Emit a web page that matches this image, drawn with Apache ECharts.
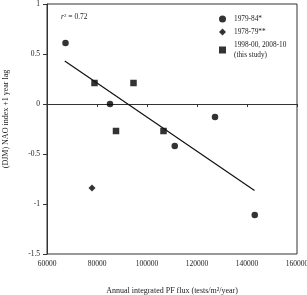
<!DOCTYPE html>
<html><head><meta charset="utf-8">
<script src="https://cdn.jsdelivr.net/npm/echarts@6/dist/echarts.min.js"></script>
<style>html,body{margin:0;padding:0;background:#fff}#c{width:307px;height:295px}</style>
</head><body><div id="c"></div>
<script>
var circleX = [67400, 85200, 111100, 127200, 143100];
var circleY = [0.61, 0.00, -0.42, -0.13, -1.11];
var diamondX = [78000];
var diamondY = [-0.84];
var squareX = [79000, 87600, 94600, 106600];
var squareY = [0.21, -0.27, 0.21, -0.27];
var fitX = [67100, 143000];
var fitY = [0.43, -0.865];
var seriesNames = ['1979-84*', '1978-79**', '1998-00, 2008-10\n(this study)'];
var xTicks = [60000, 80000, 100000, 120000, 140000, 160000];
var yTicks = [-1.5, -1, -0.5, 0, 0.5, 1];

function pairs(xs, ys){ return xs.map(function(x,i){return [x, ys[i]];}); }
var F = 'Liberation Serif';
var chart = echarts.init(document.getElementById('c'));
chart.setOption({
  animation: false,
  textStyle: {fontFamily: F, color: '#222'},
  grid: {left: 47, right: 10, top: 4, bottom: 41, show: true, borderColor: '#333', borderWidth: 1, outerBoundsMode: 'none', containLabel: false},
  xAxis: {type: 'value', min: 60000, max: 160000, interval: 20000,
    name: 'Annual integrated PF flux (tests/m²/year)', nameLocation: 'middle', nameGap: 33,
    nameTextStyle: {fontFamily: F, fontSize: 8, color: '#222'},
    axisLine: {lineStyle: {color: '#333'}}, axisTick: {length: 3, lineStyle: {color: '#333'}},
    axisLabel: {fontFamily: F, fontSize: 7.5, color: '#222', margin: 6, formatter: function(v){return String(v);}}, splitLine: {show: false}},
  yAxis: {type: 'value', min: -1.5, max: 1, interval: 0.5,
    axisLine: {show: true, lineStyle: {color: '#333'}}, axisTick: {show: true, length: 4, lineStyle: {color: '#333'}},
    axisLabel: {fontFamily: F, fontSize: 7.5, color: '#222', margin: 7}, splitLine: {show: false}},
  legend: {orient: 'vertical', left: 219, top: 14, itemWidth: 7, itemHeight: 7, itemGap: 3, padding: 0,
    itemStyle: {color: '#000'},
    textStyle: {fontFamily: F, fontSize: 7.3, color: '#222', lineHeight: 10, padding: [0,0,0,3]},
    data: [{name: seriesNames[0], icon: 'circle'}, {name: seriesNames[1], icon: 'diamond'}, {name: seriesNames[2], icon: 'rect'}]},
  graphic: [
    {type: 'text', left: 61, top: 13, style: {text: '{i|r}{s|2} = 0.72', rich: {i: {fontStyle: 'italic', fontFamily: F, fontSize: 7.5}, s: {fontFamily: F, fontSize: 5, verticalAlign: 'top', padding: [0,0,4,0]}}, fontFamily: F, fontSize: 7.5, fill: '#222'}},
    {type: 'text', x: 6, y: 119, rotation: Math.PI/2, style: {text: '(DJM) NAO index +1 year lag', fontFamily: F, fontSize: 8, fill: '#222', align: 'center', verticalAlign: 'middle'}}
  ],
  series: [
    {name: seriesNames[0], type: 'scatter', symbol: 'circle', symbolSize: 6.5, itemStyle: {color: '#000'}, data: pairs(circleX, circleY)},
    {name: seriesNames[1], type: 'scatter', symbol: 'diamond', symbolSize: 7, itemStyle: {color: '#000'}, data: pairs(diamondX, diamondY)},
    {name: seriesNames[2], type: 'scatter', symbol: 'rect', symbolSize: 6.5, itemStyle: {color: '#000'}, data: pairs(squareX, squareY)},
    {name: 'fit', type: 'line', symbol: 'none', lineStyle: {color: '#111', width: 1.2}, data: pairs(fitX, fitY)}
  ]
});
</script></body></html>
